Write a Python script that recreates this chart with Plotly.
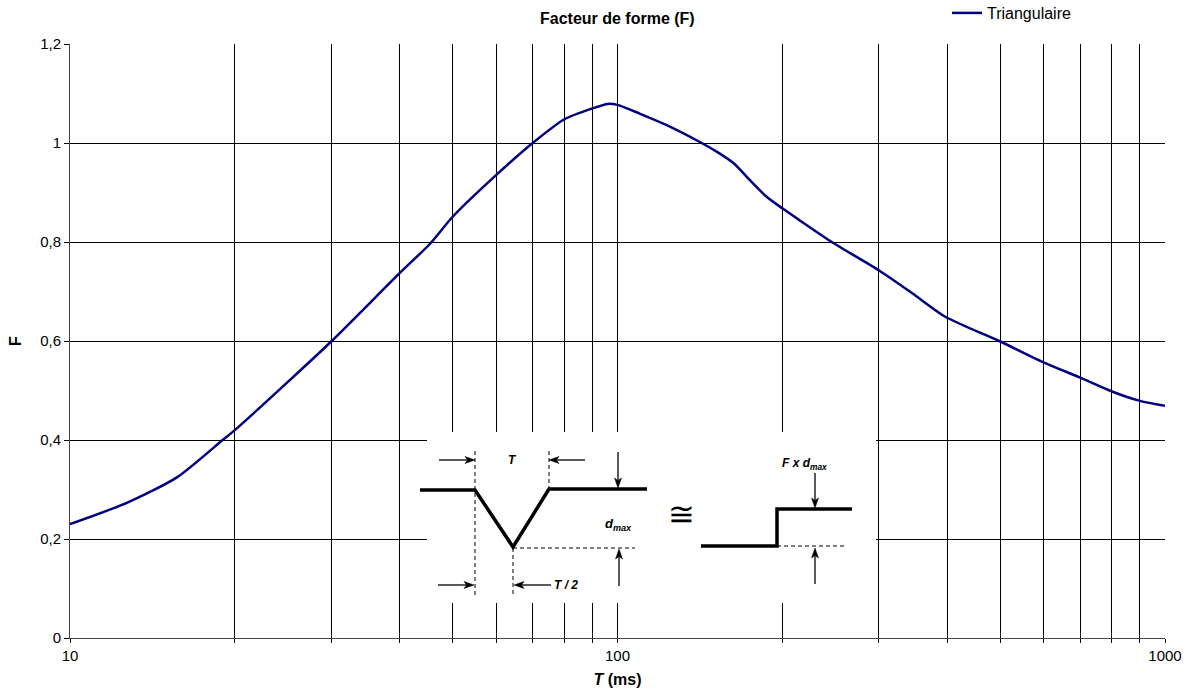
import plotly.graph_objects as go

# Data
T_ms = [10, 12.7, 15.7, 19.0, 20, 25.2, 30, 40, 45.5, 50, 60, 70, 80, 90, 96, 100,
        110, 123, 143, 152, 163, 174.5, 187, 200, 215, 247, 300, 346, 397, 500,
        597, 700, 800, 900, 1000]
F_vals = [0.230, 0.273, 0.325, 0.400, 0.420, 0.521, 0.599, 0.737, 0.797, 0.851,
          0.935, 1.000, 1.048, 1.070, 1.079, 1.077, 1.059, 1.036, 0.999, 0.982,
          0.959, 0.925, 0.892, 0.868, 0.844, 0.799, 0.743, 0.696, 0.649, 0.599,
          0.558, 0.526, 0.498, 0.479, 0.469]
x_major = [10, 100, 1000]
x_minor = [20, 30, 40, 50, 60, 70, 80, 90, 200, 300, 400, 500, 600, 700, 800, 900]
y_ticks = [0, 0.2, 0.4, 0.6, 0.8, 1.0, 1.2]
y_labels = ["0", "0,2", "0,4", "0,6", "0,8", "1", "1,2"]

W, H = 1190, 696
L, R, T, B = 70, 1165, 44, 638
FONT = "Arial, Liberation Sans, sans-serif"


def px(x):
    return (x - L) / (R - L)


def py(y):
    return (B - y) / (B - T)


fig = go.Figure()
fig.add_trace(go.Scatter(
    x=T_ms, y=F_vals, mode="lines", name="Triangulaire",
    line=dict(color="#000080", width=2.5, shape="spline", smoothing=0.7),
))

shapes = []
# inset white box
shapes.append(dict(type="rect", xref="paper", yref="paper",
                   x0=px(427), x1=px(876), y0=py(603), y1=py(432),
                   fillcolor="white", line=dict(width=0), layer="above"))


def seg(pts, width=3, dash=None):
    path = "M " + " L ".join(f"{px(a)},{py(b)}" for a, b in pts)
    shapes.append(dict(type="path", xref="paper", yref="paper", path=path,
                       line=dict(color="black", width=width, dash=dash or "solid"),
                       layer="above"))


def poly(pts):
    path = "M " + " L ".join(f"{px(a)},{py(b)}" for a, b in pts) + " Z"
    shapes.append(dict(type="path", xref="paper", yref="paper", path=path,
                       fillcolor="black", line=dict(color="black", width=0.5),
                       layer="above"))


# triangular pulse
seg([(420, 490), (475, 490), (513, 547), (549, 489), (647, 489)], width=3.5)
# step
seg([(701, 546), (777, 546), (777, 509), (852, 509)], width=3.5)
# dashed guides
DASH = "4px,3px"
seg([(475, 451), (475, 596)], width=1, dash=DASH)
seg([(549, 451), (549, 489)], width=1, dash=DASH)
seg([(513, 548), (513, 596)], width=1, dash=DASH)
seg([(513, 548), (635, 548)], width=1, dash=DASH)
seg([(777, 546), (847, 546)], width=1, dash=DASH)


def arrow(hx, hy, tx, ty, hl=10, hw=3.5):
    dx, dy = hx - tx, hy - ty
    n = (dx * dx + dy * dy) ** 0.5
    ux, uy = dx / n, dy / n
    bx, by = hx - ux * hl, hy - uy * hl
    nx, ny = hx - ux * hl * 0.75, hy - uy * hl * 0.75
    seg([(tx, ty), (nx, ny)], width=1.3)
    poly([(hx, hy), (bx - uy * hw, by + ux * hw), (nx, ny), (bx + uy * hw, by - ux * hw)])


arrow(475, 460, 439, 460)
arrow(549, 460, 585, 460)
arrow(618, 488, 618, 452)
arrow(619, 549, 619, 586)
arrow(474, 585, 438, 585)
arrow(514, 585, 551, 585)
arrow(815, 508, 815, 473)
arrow(815, 548, 815, 584)

annotations = []


def text(x, y, s, size=12, **kw):
    annotations.append(dict(xref="paper", yref="paper", x=px(x), y=py(y),
                            xanchor="center", yanchor="middle",
                            text=s, showarrow=False,
                            font=dict(family=FONT, size=size, color="black"), **kw))


text(512, 460, "<b><i>T</i></b>")
text(618, 524, "<b><i>d<sub>max</sub></i></b>", size=13)
text(566, 585, "<b><i>T / 2</i></b>")
text(804, 464, "<b><i>F x d<sub>max</sub></i></b>", size=12)
text(681, 514, "≅", size=32)

# title
text(617.5, 18, "<b>Facteur de forme (F)</b>", size=16)

fig.update_layout(
    width=W, height=H,
    margin=dict(l=L, r=W - R, t=T, b=H - B, autoexpand=False),
    paper_bgcolor="white", plot_bgcolor="white",
    font=dict(family=FONT, size=15, color="black"),
    showlegend=True,
    legend=dict(xref="container", yref="container", x=947 / W, y=1 - 13 / H,
                xanchor="left", yanchor="middle",
                font=dict(family=FONT, size=16, color="black"),
                bgcolor="rgba(0,0,0,0)", itemwidth=30),
    shapes=shapes, annotations=annotations,
)
fig.update_xaxes(
    type="log", range=[1, 3], tickmode="array", tickvals=x_major,
    ticktext=[str(v) for v in x_major],
    showgrid=True, gridcolor="black", gridwidth=1,
    minor=dict(tickmode="array", tickvals=x_minor, showgrid=True,
               gridcolor="black", gridwidth=1, ticks="outside", ticklen=4,
               tickcolor="black"),
    ticks="outside", ticklen=4, tickcolor="black",
    showline=True, linecolor="#444", linewidth=1,
    zeroline=False,
    title=dict(text="<b><i>T</i> (ms)</b>", font=dict(family=FONT, size=16), standoff=10),
    tickfont=dict(family=FONT, size=15),
)
fig.update_yaxes(
    range=[0, 1.2], tickmode="array", tickvals=y_ticks, ticktext=y_labels,
    showgrid=True, gridcolor="black", gridwidth=1,
    ticks="outside", ticklen=5, tickcolor="black",
    showline=True, linecolor="#444", linewidth=1, zeroline=False,
    title=dict(text="<b>F</b>", font=dict(family=FONT, size=16), standoff=14),
    tickfont=dict(family=FONT, size=15),
)

fig.write_html("out.html", config={"displayModeBar": False},
               post_script="document.body.style.margin='0';")
